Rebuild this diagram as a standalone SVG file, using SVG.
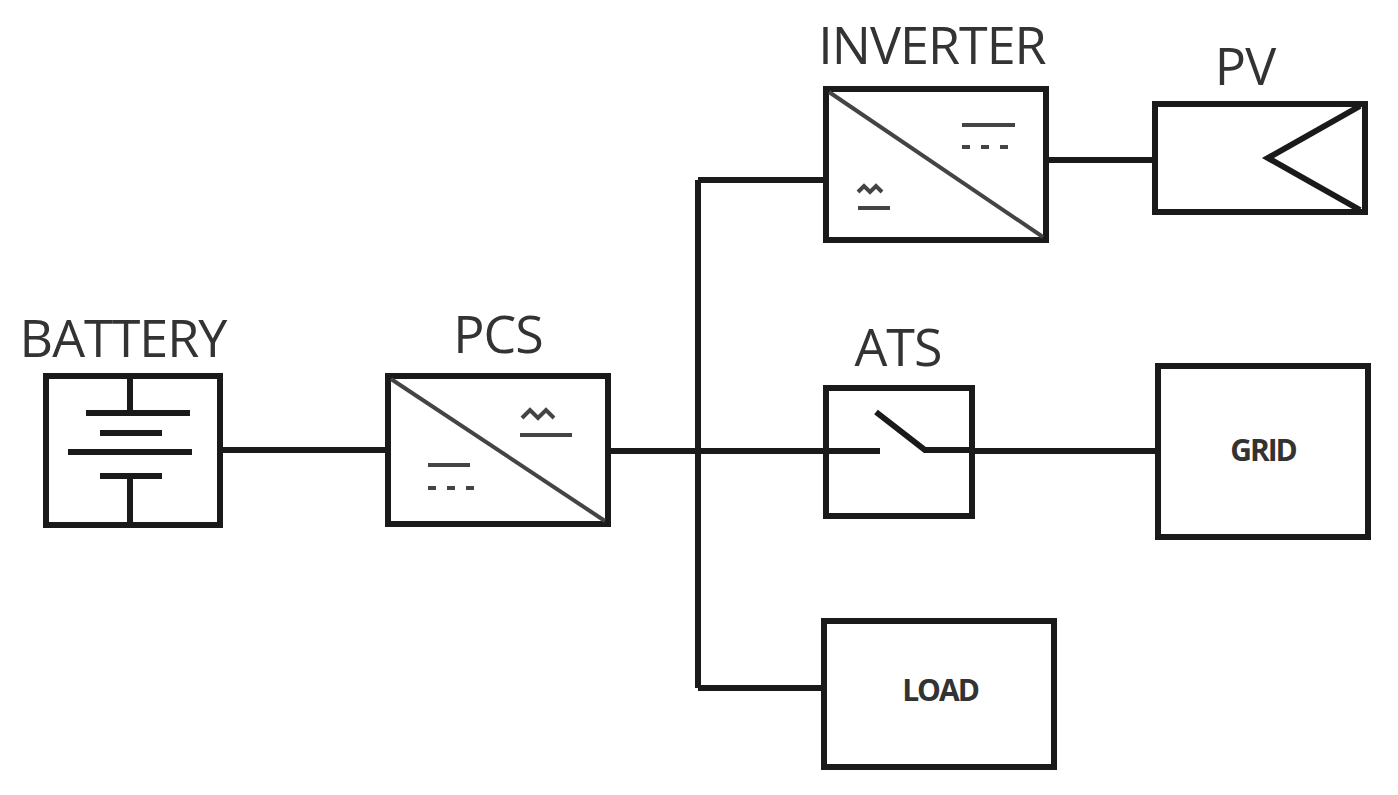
<svg xmlns="http://www.w3.org/2000/svg" width="1398" height="795" viewBox="0 0 1398 795">
<style>
.b{fill:#fff;stroke:#1a1a1a;stroke-width:6}
.l{stroke:#1a1a1a;stroke-width:6;fill:none}
.t{stroke:#444;stroke-width:4;fill:none}
.lab{font-family:"Open Sans",sans-serif;font-size:52px;fill:#333;text-anchor:middle;letter-spacing:-1px}
.in{font-family:"Open Sans",sans-serif;font-size:30px;font-weight:bold;fill:#333;text-anchor:middle;letter-spacing:-2px}
</style>
<rect width="1398" height="795" fill="#fff"/>
<g id="connectors" class="l">
<path d="M220 450H388"/>
<path d="M608 451H826"/>
<path d="M972 451H1158"/>
<path d="M698 180V688"/>
<path d="M698 180H826"/>
<path d="M698 688H824"/>
<path d="M1046 160H1155"/>
</g>
<g id="battery">
<rect class="b" x="46" y="376" width="174" height="149"/>
<path class="l" d="M130 376V413M86 413H190M100 433H162M68 452H192M100 476H162M130 476V525"/>
<text class="lab" x="123" y="357">BATTERY</text>
</g>
<g id="pcs">
<rect class="b" x="388" y="376" width="220" height="148"/>
<path class="t" d="M391 379L605 521"/>
<path class="t" d="M428 465H470M428 488h8M447 488h8M466 488h8"/>
<path class="t" d="M522 418l8 -8l8 8l8 -8l8 8M520 435H572"/>
<text class="lab" x="498" y="353">PCS</text>
</g>
<g id="inverter">
<rect class="b" x="826" y="89" width="220" height="151"/>
<path class="t" d="M829 92L1043 237"/>
<path class="t" d="M962 125H1015M962 147h8M981 147h8M1000 147h8"/>
<path class="t" d="M858 192l6 -6l6 6l6 -6l6 6M858 208H890"/>
<text class="lab" x="932" y="64">INVERTER</text>
</g>
<g id="pv">
<rect class="b" x="1155" y="104" width="210" height="108"/>
<path class="l" d="M1360 106L1268 158L1360 210"/>
<text class="lab" x="1245" y="85">PV</text>
</g>
<g id="ats">
<rect class="b" x="826" y="388" width="146" height="128"/>
<path class="l" d="M826 451H880M876 412L925 450H972"/>
<text class="lab" x="898" y="366">ATS</text>
</g>
<g id="grid">
<rect class="b" x="1158" y="366" width="210" height="171"/>
<text class="in" x="1263" y="461">GRID</text>
</g>
<g id="load">
<rect class="b" x="824" y="621" width="230" height="146"/>
<text class="in" x="940" y="701">LOAD</text>
</g>
</svg>
